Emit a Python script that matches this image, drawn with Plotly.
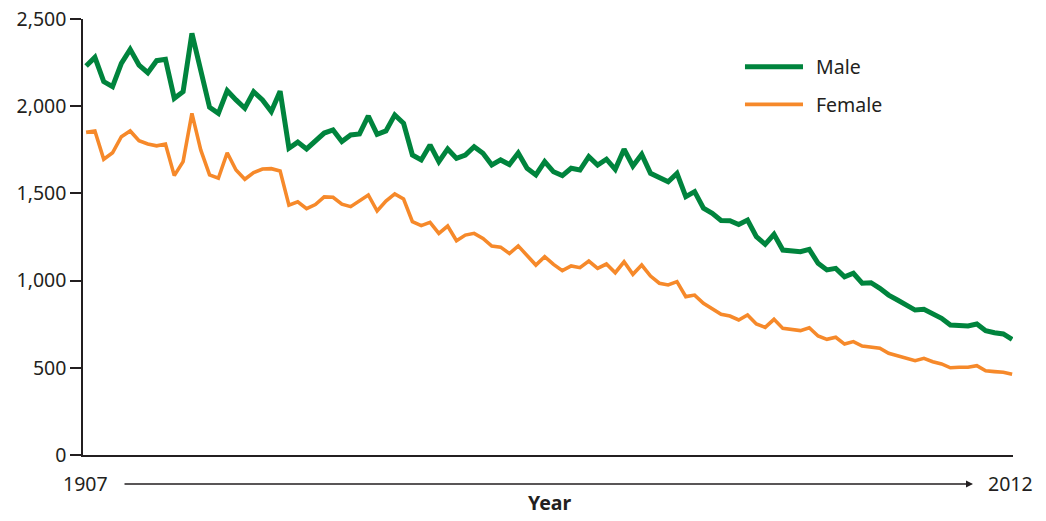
import plotly.graph_objects as go

years = list(range(1907, 2013))

male = [2230, 2280, 2141, 2112, 2246, 2326, 2236, 2192, 2261, 2269,
        2045, 2083, 2418, 2198, 1994, 1959, 2089, 2036, 1988, 2083,
        2036, 1969, 2086, 1759, 1794, 1755, 1797, 1846, 1864, 1797,
        1835, 1841, 1944, 1839, 1858, 1950, 1902, 1720, 1692, 1778,
        1682, 1755, 1701, 1720, 1768, 1730, 1663, 1692, 1665, 1732,
        1644, 1606, 1682, 1624, 1602, 1644, 1634, 1711, 1663, 1696,
        1638, 1753, 1657, 1724, 1615, 1590, 1567, 1615, 1481, 1510,
        1415, 1386, 1345, 1343, 1322, 1347, 1252, 1208, 1265, 1175,
        1171, 1166, 1179, 1099, 1061, 1070, 1022, 1042, 985, 988,
        956, 917, 889, 860, 831, 835, 807, 784, 745, 745,
        740, 751, 713, 701, 694, 663]

female = [1850, 1858, 1696, 1733, 1825, 1858, 1802, 1783, 1773, 1783,
          1602, 1682, 1959, 1749, 1606, 1587, 1733, 1634, 1581, 1619,
          1640, 1642, 1629, 1433, 1452, 1413, 1436, 1480, 1478, 1438,
          1424, 1458, 1491, 1399, 1456, 1497, 1468, 1338, 1315, 1334,
          1271, 1313, 1229, 1261, 1271, 1242, 1198, 1192, 1155, 1199,
          1141, 1089, 1137, 1093, 1057, 1084, 1074, 1112, 1070, 1095,
          1045, 1108, 1036, 1089, 1026, 985, 975, 994, 908, 917,
          870, 841, 807, 797, 774, 803, 751, 732, 778, 726,
          717, 713, 730, 682, 663, 675, 636, 650, 625, 621,
          612, 583, 569, 558, 541, 554, 535, 522, 500, 503,
          503, 512, 483, 478, 474, 463]

y_ticks = [0, 500, 1000, 1500, 2000, 2500]

GREEN = "#00843d"
ORANGE = "#f6892a"
INK = "#231f20"
FONT = "Noto Sans"

fig = go.Figure()
fig.add_trace(go.Scatter(x=years, y=male, mode="lines", name="Male",
                         line=dict(color=GREEN, width=5)))
fig.add_trace(go.Scatter(x=years, y=female, mode="lines", name="Female",
                         line=dict(color=ORANGE, width=3.6)))

fig.update_layout(
    width=1046, height=521,
    margin=dict(l=83, r=33, t=19, b=66),
    paper_bgcolor="white", plot_bgcolor="white",
    showlegend=False,
    font=dict(family=FONT, size=19, color=INK),
)
fig.update_xaxes(range=[1906.65, 2012.1], showgrid=False, zeroline=False,
                 showticklabels=False, ticks="",
                 showline=True, linecolor=INK, linewidth=1.5)
fig.update_yaxes(range=[0, 2500], tickvals=y_ticks, tickformat=",d",
                 showgrid=False, zeroline=False, automargin=False,
                 showline=True, linecolor=INK, linewidth=1.5,
                 ticks="outside", ticklen=11, tickcolor=INK, tickwidth=1.5,
                 tickfont=dict(size=19.5))

# legend drawn by hand so the sample lines match the long strokes
for yp, col, w, label in [(0.8906, GREEN, 5, "Male"), (0.8044, ORANGE, 3.8, "Female")]:
    fig.add_shape(type="line", xref="paper", yref="paper",
                  x0=0.7118, x1=0.7742, y0=yp, y1=yp,
                  line=dict(color=col, width=w))
    fig.add_annotation(xref="paper", yref="paper", x=0.786, y=yp,
                       text=label, showarrow=False, xanchor="left",
                       yanchor="middle", font=dict(size=19.5, color=INK))

# year span arrow under the axis
fig.add_annotation(xref="paper", yref="paper", x=0.957, y=-0.0665,
                   ax=-850, ay=0, text="", showarrow=True,
                   arrowhead=2, arrowsize=1, arrowwidth=1.4, arrowcolor=INK)
fig.add_annotation(xref="paper", yref="paper", x=0.0295, y=-0.0665,
                   text="1907", showarrow=False, xanchor="right",
                   yanchor="middle", font=dict(size=19.5, color=INK))
fig.add_annotation(xref="paper", yref="paper", x=0.971, y=-0.0665,
                   text="2012", showarrow=False, xanchor="left",
                   yanchor="middle", font=dict(size=19.5, color=INK))
fig.add_annotation(xref="paper", yref="paper", x=0.502, y=-0.108,
                   text="<b>Year</b>", showarrow=False, xanchor="center",
                   yanchor="middle", font=dict(size=19.5, color=INK))

fig.write_html("out.html", config={"displayModeBar": False},
               post_script="document.body.style.margin='0';")
